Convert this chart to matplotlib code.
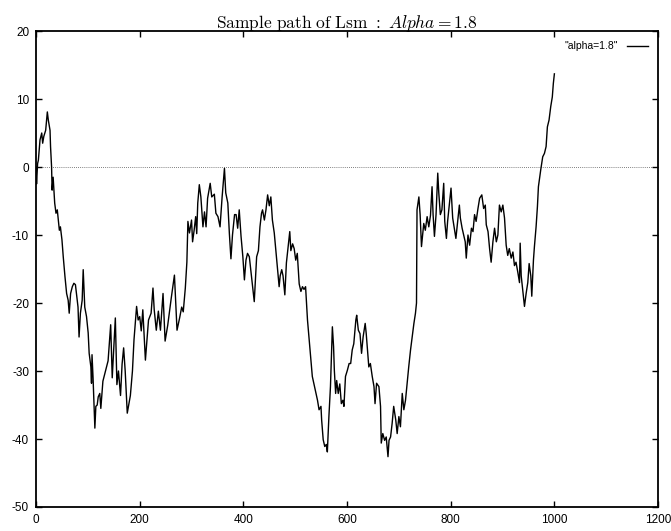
import matplotlib
matplotlib.use('Agg')
import matplotlib.pyplot as plt

# sample path (time, value)
path_t = [0, 1, 3, 4.5, 7.7, 11, 12.8, 15, 18.6, 21.8, 23.7, 27, 28, 30, 31, 33, 36, 38.5, 41, 45,
          47, 50, 52.5, 55.8, 59, 62, 64, 66.7, 70, 73, 76, 78, 81, 83, 85.6, 89, 91, 94, 97.4, 100.6,
          102.5, 105.8, 107, 108, 110, 111.5, 113.5, 115.4, 118, 120, 123, 125, 129, 136, 139, 144, 147, 153, 156, 159,
          163, 166, 169, 172, 176, 182, 186, 189, 194, 197, 200, 203, 206, 211, 217, 222, 225.6, 228, 232, 236,
          240, 245, 247, 249, 254, 261, 267, 269, 272, 277, 281, 284, 288, 291, 293, 296, 300, 302, 305, 308,
          310, 312, 315, 318, 322, 325, 328, 331, 336, 339, 344, 347, 351, 355, 359, 363.5, 366, 370, 373, 376,
          379, 383, 386, 389, 392, 395.5, 399, 402, 405, 408, 411.5, 415, 418, 421, 423, 425.6, 429, 432, 435, 437,
          440.5, 443.6, 446.8, 450, 453, 456, 459.6, 463, 466, 469, 471, 474, 476.5, 480, 483, 486.5, 489.5, 491.6, 495, 498,
          501, 504, 507.7, 511, 514, 517, 520, 523.7, 527, 530, 533, 540, 543, 546, 549.7, 551, 554, 557, 560, 562,
          565, 568, 571.7, 574, 575.5, 578, 580, 583, 586, 589, 592, 594, 597, 600.6, 604, 607, 610, 613, 617, 618.6,
          621.8, 625, 628, 631, 635, 637, 640, 642, 645, 648.6, 652, 654, 657, 661.5, 664.6, 666, 669, 672.5, 675.6, 679,
          681, 684, 687, 690, 694, 696.7, 700, 703, 706.5, 709.6, 712.8, 716, 719, 722.5, 725.6, 729, 732, 734, 735, 738.6,
          741, 743.6, 748, 751, 754.5, 757.7, 761, 764, 766, 768.6, 771.7, 775, 777, 780, 783, 786.5, 788.5, 791.7, 794, 798,
          800.6, 803.8, 807, 810, 813.5, 816.7, 818.6, 822, 825, 828, 830, 833.3, 836.5, 840, 843, 846, 849, 852.6, 855.8, 860,
          863.5, 866.7, 868.6, 872, 875, 878, 881.4, 884.6, 888, 891, 894, 897.4, 900.6, 903.8, 907, 910, 913, 916.7, 920, 923,
          926, 929.5, 932.7, 934, 936, 939, 942.3, 945.5, 948.7, 951.3, 954.5, 956.4, 959.6, 961.5, 964.7, 967.3, 969.2, 971, 973.7, 977.5,
          980.8, 984, 986.5, 989.7, 993, 996, 998, 1000]
path_v = [0, -2.5, 0.5, 1, 4, 5, 3.5, 4.5, 5.4, 8.1, 6.9, 5.4, 3, 0, -3.4, -1.5, -5.3, -6.8, -6.3, -9.3,
          -8.8, -10.7, -13.2, -16.1, -18.6, -19.6, -21.5, -18.6, -17.6, -17.1, -17.3, -18.6, -20.6, -25, -21.5, -19.6, -15.1, -20.6, -22, -24.4,
          -27.4, -29.4, -31.8, -27.6, -31, -34.3, -38.4, -35.2, -35, -33.8, -33.3, -35.5, -31.5, -29.4, -28.5, -23.2, -31, -22.2, -32, -30,
          -33.6, -29, -26.6, -30, -36.2, -33.6, -30, -25.4, -20.5, -22.5, -22, -24.1, -21, -28.4, -22.5, -21.5, -17.8, -21, -24, -21.2,
          -24, -18.6, -22, -25.6, -23.3, -19.2, -15.9, -19.2, -24, -22.2, -20.6, -21.3, -17.8, -14, -8, -9.7, -7.8, -11, -9.3, -7.3,
          -9.8, -5.3, -2.6, -4.4, -8.8, -6.6, -8.8, -4.6, -2.4, -4.4, -4, -6.8, -7.3, -8.8, -4.4, -0.2, -3.8, -5.3, -9.8, -13.5,
          -10, -7, -7, -9, -6.3, -10.2, -13.2, -16.6, -13.7, -12.7, -13.2, -15.6, -17.6, -19.8, -17, -13.2, -12.3, -8.8, -6.8, -6.3,
          -7.8, -6.3, -4.1, -5.7, -4.4, -7.8, -9.7, -12.5, -15.1, -17.6, -16, -15.1, -16, -18.8, -14.1, -11.7, -9.5, -12.3, -11.3, -12,
          -13.7, -12.7, -17.2, -18.3, -17.6, -18, -17.6, -22.5, -25.4, -28, -30.8, -33.3, -34.3, -35.7, -35.2, -37.2, -40.1, -41.1, -40.8, -41.9,
          -36.7, -32.3, -23.5, -26.4, -29.9, -33.3, -31.4, -33.3, -31.9, -34.8, -34.3, -35.2, -30.8, -29.9, -28.9, -28.9, -26.9, -26, -22.5, -21.8,
          -24, -24.5, -27.4, -25, -23, -24.5, -27.4, -29.4, -28.9, -30.8, -32.3, -34.8, -31.8, -32.3, -35.2, -40.6, -39.2, -40.2, -39.7, -42.6,
          -40.2, -39.7, -37.7, -35.2, -37.2, -39.2, -36.7, -38.2, -33.3, -35.7, -34.3, -31.8, -29.4, -26.9, -25, -23, -21.5, -20, -6.3, -4.4,
          -7, -11.7, -8.3, -9.3, -7.3, -8.8, -7.1, -2.9, -7, -10.2, -7, -0.9, -3.8, -7, -6.3, -2.4, -8, -10.5, -8, -5.1,
          -3.1, -7.5, -9, -10.5, -8, -5.6, -7.5, -9, -10, -11, -13.4, -10, -11.5, -9, -9.5, -7, -8, -6.1, -4.6, -4.1,
          -6.1, -5.6, -8.5, -9.5, -12, -14, -11, -9, -11, -10, -5.6, -6.6, -5.6, -7.5, -11.5, -13, -12, -13.4, -12.5, -14.5,
          -14, -15.5, -17, -11.2, -16, -18.1, -20.5, -18.6, -17, -14.2, -16, -19, -13.7, -11.7, -8.8, -5.8, -2.9, -1.9, -0.4, 1.5,
          2, 3, 5.9, 6.9, 8.9, 10.3, 12.3, 13.7]

xticks = [0, 200, 400, 600, 800, 1000, 1200]
yticks = [-50, -40, -30, -20, -10, 0, 10, 20]

plt.rcParams['mathtext.fontset'] = 'cm'
plt.rcParams['font.family'] = ['Liberation Sans', 'DejaVu Sans']
plt.rcParams['axes.unicode_minus'] = False

fig = plt.figure(figsize=(6.71, 5.31), dpi=100)
ax = fig.add_axes([0.0537, 0.0452, 0.927, 0.8964])

ax.axhline(0, color='#555555', lw=0.6, ls=(0, (1, 1.5)), zorder=1)
ax.plot(path_t, path_v, color='black', lw=1.0, label='"alpha=1.8"', zorder=2)

ax.set_xlim(0, 1200)
ax.set_ylim(-50, 20)
ax.set_xticks(xticks)
ax.set_yticks(yticks)
ax.tick_params(direction='in', length=4, width=1, top=True, right=True, labelsize=8.5, pad=5)
for s in ax.spines.values():
    s.set_linewidth(1.3)

ax.set_title(r'$\mathrm{Sample\ path\ of\ Lsm}\ :\ Alpha = 1.8$', fontsize=12.5, pad=2)
ax.legend(loc='upper right', frameon=False, markerfirst=False, fontsize=7.5,
          handlelength=2.0, borderaxespad=0.6)

plt.savefig('out.png', dpi=100)
